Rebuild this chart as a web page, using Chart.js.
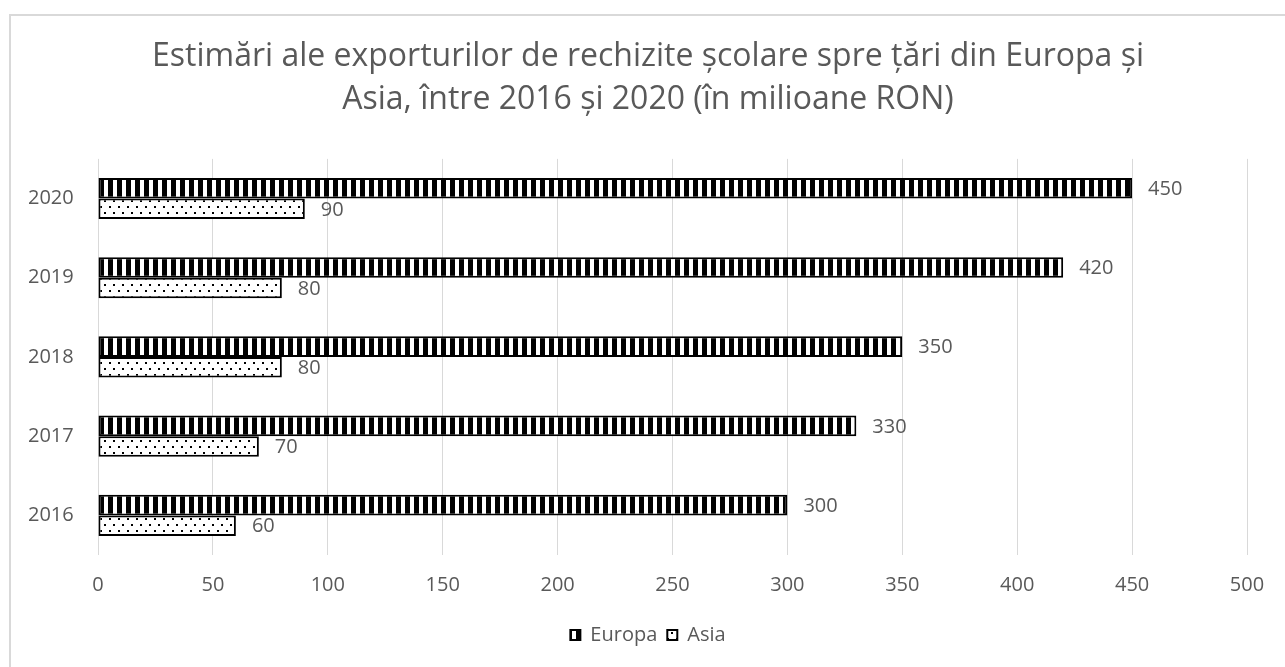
<!DOCTYPE html>
<html>
<head>
<meta charset="utf-8">
<script src="https://cdn.jsdelivr.net/npm/chart.js@4/dist/chart.umd.min.js"></script>
<style>
  html, body { margin: 0; padding: 0; background: #ffffff; }
  #wrap { position: relative; width: 1285px; height: 667px; overflow: hidden; background: #fff; }
  #frame { position: absolute; left: 9px; top: 14px; width: 1400px; height: 800px;
           border-left: 2px solid #d9d9d9; border-top: 2px solid #d9d9d9; box-sizing: border-box; }
  #c { position: absolute; left: 0; top: 0; }
</style>
</head>
<body>
<div id="wrap">
  <div id="frame"></div>
  <canvas id="c" width="1285" height="667"></canvas>
</div>
<script>
const titleLines = [
  "Estimări ale exporturilor de rechizite școlare spre țări din Europa și",
  "Asia, între 2016 și 2020 (în milioane RON)"
];
const years = ["2020", "2019", "2018", "2017", "2016"];
const europaValues = [450, 420, 350, 330, 300];
const asiaValues = [90, 80, 80, 70, 60];
const seriesNames = ["Europa", "Asia"];
const xMin = 0, xMax = 500, xStep = 50;

const FONT = "'Open Sans', 'Noto Sans', sans-serif";
const GRAY = "#595959";

function stripePattern() {
  const c = document.createElement("canvas");
  c.width = 9; c.height = 9;
  const g = c.getContext("2d");
  g.fillStyle = "#ffffff"; g.fillRect(0, 0, 9, 9);
  g.fillStyle = "#000000"; g.fillRect(0, 0, 5, 9);
  return g.createPattern(c, "repeat");
}
function dotPattern() {
  const c = document.createElement("canvas");
  c.width = 9; c.height = 12;
  const g = c.getContext("2d");
  g.fillStyle = "#ffffff"; g.fillRect(0, 0, 9, 12);
  g.fillStyle = "#000000";
  g.fillRect(1, 2, 2, 2);
  g.fillRect(5, 8, 2, 2);
  return g.createPattern(c, "repeat");
}

const valueLabels = {
  id: "valueLabels",
  afterDatasetsDraw(chart) {
    const ctx = chart.ctx;
    ctx.save();
    ctx.font = "20px " + FONT;
    ctx.fillStyle = GRAY;
    ctx.textAlign = "left";
    ctx.textBaseline = "middle";
    chart.data.datasets.forEach((ds, i) => {
      const meta = chart.getDatasetMeta(i);
      meta.data.forEach((bar, j) => {
        ctx.fillText(String(ds.data[j]), bar.x + 16, bar.y + 1);
      });
    });
    ctx.restore();
  }
};

new Chart(document.getElementById("c"), {
  type: "bar",
  data: {
    labels: years,
    datasets: [
      { label: seriesNames[0], data: europaValues, backgroundColor: stripePattern(),
        borderColor: "#000000", borderWidth: 2, borderSkipped: false },
      { label: seriesNames[1], data: asiaValues, backgroundColor: dotPattern(),
        borderColor: "#000000", borderWidth: 2, borderSkipped: false }
    ]
  },
  options: {
    indexAxis: "y",
    responsive: false,
    animation: false,
    devicePixelRatio: 1,
    datasets: { bar: { categoryPercentage: 0.52, barPercentage: 1.0 } },
    layout: { padding: { left: 49, right: 38, top: 20, bottom: 12 } },
    plugins: {
      title: {
        display: true, text: titleLines, color: GRAY,
        font: { family: FONT, size: 32, weight: "normal", lineHeight: 1.35 },
        padding: { top: 15.5, bottom: 37 }
      },
      legend: {
        position: "bottom",
        labels: { color: GRAY, font: { family: FONT, size: 20 }, boxWidth: 10, boxHeight: 10, padding: 10 }
      },
      tooltip: { enabled: false }
    },
    scales: {
      x: {
        min: xMin, max: xMax,
        ticks: { stepSize: xStep, color: GRAY, font: { family: FONT, size: 20 }, padding: 18 },
        grid: { color: "#d9d9d9", lineWidth: 1, drawTicks: false },
        border: { display: false }
      },
      y: {
        ticks: { color: GRAY, font: { family: FONT, size: 20 }, mirror: true, crossAlign: "near", padding: -70 },
        grid: { display: false },
        border: { display: false },
        afterFit(scale) { scale.width = 49; }
      }
    }
  },
  plugins: [valueLabels]
});
</script>
</body>
</html>
